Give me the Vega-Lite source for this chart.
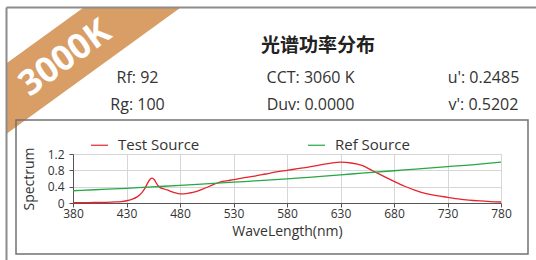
{
  "$schema": "https://vega.github.io/schema/vega-lite/v6.json",
  "width": 428,
  "height": 49,
  "autosize": {"type": "none"},
  "padding": {"left": 73, "top": 154, "right": 35, "bottom": 57},
  "background": "white",
  "config": {
    "font": "Open Sans",
    "view": {"stroke": "#cccccc", "strokeWidth": 1},
    "text": {"font": "Open Sans"}
  },
  "layer": [
    {
      "data": {"values": [{}]},
      "layer": [
        {
          "mark": {"type": "rule", "strokeWidth": 57, "strokeCap": "butt", "color": "#d89e66"},
          "encoding": {
            "x": {"datum": -15, "type": "quantitative", "scale": {"type": "linear", "domain": [0, 536], "range": [-73, 463], "nice": false, "zero": false}, "axis": null},
            "y": {"datum": 114.2, "type": "quantitative", "scale": {"type": "linear", "domain": [0, 260], "range": [-154, 106], "nice": false, "zero": false}, "axis": null},
            "x2": {"datum": 200},
            "y2": {"datum": -41.7}
          }
        },
        {
          "mark": {"type": "rect", "fill": "white", "strokeWidth": 0},
          "encoding": {
            "x": {"datum": -20, "type": "quantitative", "scale": {"type": "linear", "domain": [0, 536], "range": [-73, 463], "nice": false, "zero": false}, "axis": null},
            "x2": {"datum": 6.5},
            "y": {"datum": -60, "type": "quantitative", "scale": {"type": "linear", "domain": [0, 260], "range": [-154, 106], "nice": false, "zero": false}, "axis": null},
            "y2": {"datum": 270}
          }
        },
        {
          "mark": {"type": "rect", "fill": "white", "strokeWidth": 0},
          "encoding": {
            "x": {"datum": -20, "type": "quantitative", "scale": {"type": "linear", "domain": [0, 536], "range": [-73, 463], "nice": false, "zero": false}, "axis": null},
            "x2": {"datum": 540},
            "y": {"datum": -60, "type": "quantitative", "scale": {"type": "linear", "domain": [0, 260], "range": [-154, 106], "nice": false, "zero": false}, "axis": null},
            "y2": {"datum": 7.5}
          }
        },
        {
          "mark": {"type": "rule", "strokeWidth": 2, "color": "#8c8c8c"},
          "encoding": {
            "x": {"datum": 6.5, "type": "quantitative", "scale": {"type": "linear", "domain": [0, 536], "range": [-73, 463], "nice": false, "zero": false}, "axis": null},
            "x2": {"datum": 540},
            "y": {"datum": 7.5, "type": "quantitative", "scale": {"type": "linear", "domain": [0, 260], "range": [-154, 106], "nice": false, "zero": false}, "axis": null},
            "y2": {"datum": 7.5}
          }
        },
        {
          "mark": {"type": "rule", "strokeWidth": 2, "color": "#8c8c8c"},
          "encoding": {
            "x": {"datum": 6.5, "type": "quantitative", "scale": {"type": "linear", "domain": [0, 536], "range": [-73, 463], "nice": false, "zero": false}, "axis": null},
            "x2": {"datum": 6.5},
            "y": {"datum": 7.5, "type": "quantitative", "scale": {"type": "linear", "domain": [0, 260], "range": [-154, 106], "nice": false, "zero": false}, "axis": null},
            "y2": {"datum": 270}
          }
        },
        {
          "mark": {"type": "text", "text": "3000K", "angle": 324, "align": "center", "baseline": "middle", "font": "Open Sans", "fontWeight": "bold", "fontSize": 35, "color": "white"},
          "encoding": {
            "x": {"datum": 65, "type": "quantitative", "scale": {"type": "linear", "domain": [0, 536], "range": [-73, 463], "nice": false, "zero": false}, "axis": null},
            "y": {"datum": 58, "type": "quantitative", "scale": {"type": "linear", "domain": [0, 260], "range": [-154, 106], "nice": false, "zero": false}, "axis": null}
          }
        },
        {
          "mark": {"type": "rect", "filled": false, "stroke": "#727272", "strokeWidth": 1.5},
          "encoding": {
            "x": {"datum": 16, "type": "quantitative", "scale": {"type": "linear", "domain": [0, 536], "range": [-73, 463], "nice": false, "zero": false}, "axis": null},
            "x2": {"datum": 528},
            "y": {"datum": 120, "type": "quantitative", "scale": {"type": "linear", "domain": [0, 260], "range": [-154, 106], "nice": false, "zero": false}, "axis": null},
            "y2": {"datum": 254}
          }
        },
        {
          "mark": {"type": "text", "text": "光谱功率分布", "align": "center", "baseline": "middle", "font": "Noto Sans CJK SC", "fontWeight": "bold", "fontSize": 19, "color": "#222222"},
          "encoding": {
            "x": {"datum": 318, "type": "quantitative", "scale": {"type": "linear", "domain": [0, 536], "range": [-73, 463], "nice": false, "zero": false}, "axis": null},
            "y": {"datum": 46, "type": "quantitative", "scale": {"type": "linear", "domain": [0, 260], "range": [-154, 106], "nice": false, "zero": false}, "axis": null}
          }
        }
      ]
    },
    {
      "data": {"values": [
        {"group": "R", "row": 1, "label": "Rf: 92"},
        {"group": "R", "row": 2, "label": "Rg: 100"},
        {"group": "CCT", "row": 1, "label": "CCT: 3060 K"},
        {"group": "CCT", "row": 2, "label": "Duv: 0.0000"},
        {"group": "uv", "row": 1, "label": "u': 0.2485"},
        {"group": "uv", "row": 2, "label": "v': 0.5202"}
      ]},
      "mark": {"type": "text", "align": "center", "baseline": "alphabetic", "fontSize": 16, "color": "#333333", "font": "Open Sans"},
      "encoding": {
        "x": {"field": "group", "type": "nominal", "scale": {"type": "point", "domain": ["R", "CCT", "uv"], "range": [64.5, 410.5], "padding": 0}, "axis": null},
        "y": {"field": "row", "type": "ordinal", "scale": {"type": "point", "domain": [1, 2], "range": [-71, -44], "padding": 0}, "axis": null},
        "text": {"field": "label"}
      }
    },
    {
      "data": {"values": [
        {"source": "Test Source", "wl": 380, "power": 0.01},
        {"source": "Test Source", "wl": 390, "power": 0.01},
        {"source": "Test Source", "wl": 400, "power": 0.012},
        {"source": "Test Source", "wl": 410, "power": 0.017},
        {"source": "Test Source", "wl": 420, "power": 0.027},
        {"source": "Test Source", "wl": 425, "power": 0.036},
        {"source": "Test Source", "wl": 430, "power": 0.055},
        {"source": "Test Source", "wl": 435, "power": 0.09},
        {"source": "Test Source", "wl": 440, "power": 0.15},
        {"source": "Test Source", "wl": 444, "power": 0.24},
        {"source": "Test Source", "wl": 447, "power": 0.35},
        {"source": "Test Source", "wl": 450, "power": 0.5},
        {"source": "Test Source", "wl": 452, "power": 0.58},
        {"source": "Test Source", "wl": 454, "power": 0.61},
        {"source": "Test Source", "wl": 456, "power": 0.57},
        {"source": "Test Source", "wl": 458, "power": 0.48},
        {"source": "Test Source", "wl": 460, "power": 0.41},
        {"source": "Test Source", "wl": 462, "power": 0.37},
        {"source": "Test Source", "wl": 465, "power": 0.345},
        {"source": "Test Source", "wl": 468, "power": 0.32},
        {"source": "Test Source", "wl": 472, "power": 0.28},
        {"source": "Test Source", "wl": 476, "power": 0.245},
        {"source": "Test Source", "wl": 480, "power": 0.225},
        {"source": "Test Source", "wl": 484, "power": 0.225},
        {"source": "Test Source", "wl": 488, "power": 0.24},
        {"source": "Test Source", "wl": 492, "power": 0.26},
        {"source": "Test Source", "wl": 496, "power": 0.29},
        {"source": "Test Source", "wl": 500, "power": 0.33},
        {"source": "Test Source", "wl": 505, "power": 0.38},
        {"source": "Test Source", "wl": 510, "power": 0.44},
        {"source": "Test Source", "wl": 515, "power": 0.49},
        {"source": "Test Source", "wl": 520, "power": 0.53},
        {"source": "Test Source", "wl": 525, "power": 0.55},
        {"source": "Test Source", "wl": 530, "power": 0.57},
        {"source": "Test Source", "wl": 540, "power": 0.62},
        {"source": "Test Source", "wl": 550, "power": 0.66},
        {"source": "Test Source", "wl": 560, "power": 0.71},
        {"source": "Test Source", "wl": 570, "power": 0.76},
        {"source": "Test Source", "wl": 580, "power": 0.8},
        {"source": "Test Source", "wl": 590, "power": 0.84},
        {"source": "Test Source", "wl": 600, "power": 0.88},
        {"source": "Test Source", "wl": 610, "power": 0.93},
        {"source": "Test Source", "wl": 620, "power": 0.97},
        {"source": "Test Source", "wl": 630, "power": 1.0},
        {"source": "Test Source", "wl": 640, "power": 0.98},
        {"source": "Test Source", "wl": 650, "power": 0.92},
        {"source": "Test Source", "wl": 660, "power": 0.79},
        {"source": "Test Source", "wl": 670, "power": 0.66},
        {"source": "Test Source", "wl": 680, "power": 0.53},
        {"source": "Test Source", "wl": 690, "power": 0.41},
        {"source": "Test Source", "wl": 700, "power": 0.31},
        {"source": "Test Source", "wl": 710, "power": 0.23},
        {"source": "Test Source", "wl": 720, "power": 0.18},
        {"source": "Test Source", "wl": 730, "power": 0.14},
        {"source": "Test Source", "wl": 740, "power": 0.1},
        {"source": "Test Source", "wl": 750, "power": 0.07},
        {"source": "Test Source", "wl": 760, "power": 0.05},
        {"source": "Test Source", "wl": 770, "power": 0.035},
        {"source": "Test Source", "wl": 780, "power": 0.025},
        {"source": "Ref Source", "wl": 380, "power": 0.3},
        {"source": "Ref Source", "wl": 400, "power": 0.325},
        {"source": "Ref Source", "wl": 430, "power": 0.36},
        {"source": "Ref Source", "wl": 450, "power": 0.39},
        {"source": "Ref Source", "wl": 480, "power": 0.43},
        {"source": "Ref Source", "wl": 500, "power": 0.46},
        {"source": "Ref Source", "wl": 530, "power": 0.51},
        {"source": "Ref Source", "wl": 550, "power": 0.54},
        {"source": "Ref Source", "wl": 580, "power": 0.59},
        {"source": "Ref Source", "wl": 600, "power": 0.63},
        {"source": "Ref Source", "wl": 630, "power": 0.69},
        {"source": "Ref Source", "wl": 650, "power": 0.73},
        {"source": "Ref Source", "wl": 680, "power": 0.79},
        {"source": "Ref Source", "wl": 700, "power": 0.83},
        {"source": "Ref Source", "wl": 730, "power": 0.89},
        {"source": "Ref Source", "wl": 750, "power": 0.93},
        {"source": "Ref Source", "wl": 780, "power": 1.0}
      ]},
      "mark": {"type": "line", "strokeWidth": 1.3, "interpolate": "monotone"},
      "encoding": {
        "x": {
          "field": "wl", "type": "quantitative",
          "scale": {"domain": [380, 780], "nice": false, "zero": false},
          "axis": {
            "orient": "bottom", "values": [380, 430, 480, 530, 580, 630, 680, 730, 780],
            "title": "WaveLength(nm)", "grid": true, "gridColor": "#d6d6d6",
            "domainColor": "#555555", "tickColor": "#555555", "tickSize": 4,
            "labelFontSize": 12, "labelColor": "#333333", "labelFont": "Open Sans", "labelPadding": 1,
            "labelFlush": false, "labelOverlap": false,
            "titleFontSize": 14, "titleFontWeight": "normal", "titleColor": "#333333", "titleFont": "Open Sans", "titlePadding": 5
          }
        },
        "y": {
          "field": "power", "type": "quantitative",
          "scale": {"domain": [0, 1.2], "nice": false},
          "axis": {
            "orient": "left", "values": [0, 0.4, 0.8, 1.2], "format": "~g",
            "title": "Spectrum", "grid": true, "gridColor": "#d6d6d6",
            "domainColor": "#555555", "tickColor": "#555555", "tickSize": 4,
            "labelFontSize": 12, "labelColor": "#333333", "labelFont": "Open Sans", "labelPadding": 5,
            "labelFlush": false, "labelOverlap": false,
            "titleFontSize": 14, "titleFontWeight": "normal", "titleColor": "#333333", "titleFont": "Open Sans", "titlePadding": 11
          }
        },
        "color": {
          "field": "source", "type": "nominal",
          "scale": {"domain": ["Test Source", "Ref Source"], "range": ["#e8232b", "#26a844"]},
          "legend": {
            "orient": "none", "legendX": 17, "legendY": -18.5, "direction": "horizontal", "columns": 2,
            "columnPadding": 105, "symbolType": "stroke", "symbolSize": 289, "symbolStrokeWidth": 1.2,
            "labelFontSize": 15, "labelFont": "Open Sans", "labelColor": "#333333", "labelOffset": 9,
            "title": null, "padding": 0
          }
        }
      }
    }
  ],
  "resolve": {"scale": {"x": "independent", "y": "independent"}}
}
